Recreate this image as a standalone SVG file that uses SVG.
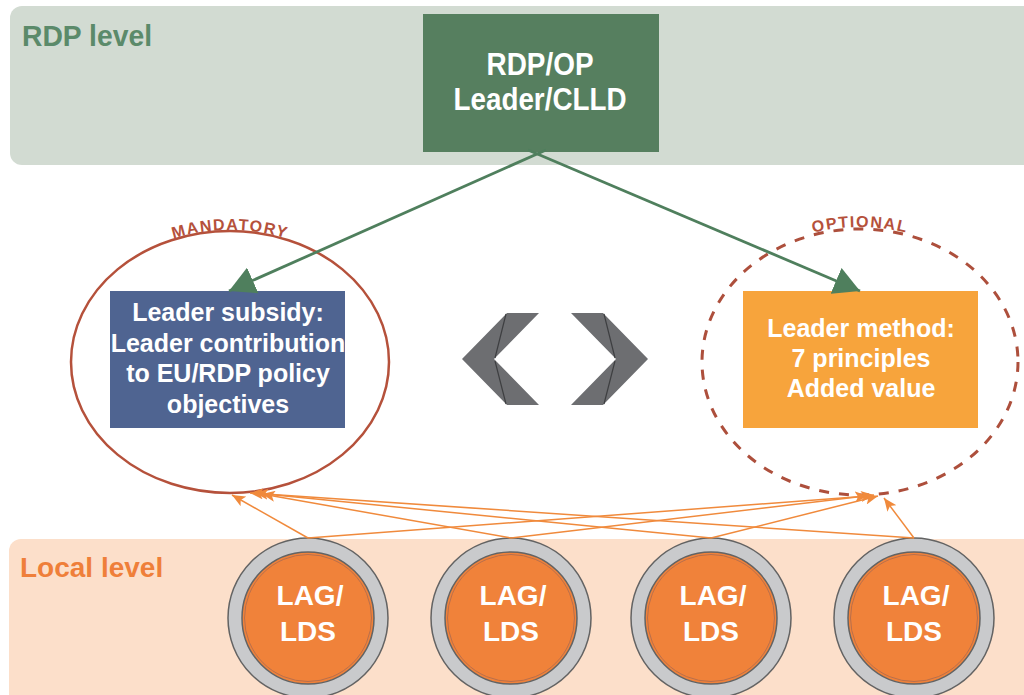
<svg xmlns="http://www.w3.org/2000/svg" width="1024" height="695" viewBox="0 0 1024 695">
<style>
  .band-title { font-family: "Liberation Sans", Arial, sans-serif; font-weight: bold; }
  .white { font-family: "Liberation Sans", Arial, sans-serif; font-weight: bold; fill: #ffffff; text-anchor: middle; }
  .curve { font-family: "Liberation Sans", Arial, sans-serif; font-weight: bold; font-size: 16px; letter-spacing: 1.4px; fill: #b5513b; }
  .green-link { stroke: #4f7f5d; stroke-width: 2.8; fill: none; }
  .orange-link { stroke: #f08a3c; stroke-width: 1.5; fill: none; }
  .chev { fill: #6d6e71; }
  .crease { stroke: #3e3f41; stroke-width: 1.2; fill: none; }
  .lag-outer { fill: #c9cacc; stroke: #636363; stroke-width: 1.5; }
  .lag-inner { fill: #f0823a; stroke: #636363; stroke-width: 1.5; }
  .lag-ring { fill: none; stroke: #b86f4c; stroke-width: 1; }
</style>
<defs>
  <marker id="greenArrow" markerUnits="userSpaceOnUse" markerWidth="26" markerHeight="28" viewBox="0 0 26 28" refX="26" refY="14" orient="auto">
    <path d="M0,0 L26,14 L0,28 z" fill="#4f7f5d"/>
  </marker>
  <marker id="orangeArrow" markerUnits="userSpaceOnUse" markerWidth="13" markerHeight="11" viewBox="0 0 13 11" refX="13" refY="5.5" orient="auto">
    <path d="M0,0 L13,5.5 L0,11 L3,5.5 z" fill="#f08a3c"/>
  </marker>
  <path id="mandPath" d="M 71,362 A 159 131 0 0 1 389,362"/>
  <path id="optPath" d="M 702,362 A 158 133 0 0 1 1018,362"/>
</defs>

<rect width="1024" height="695" fill="#ffffff"/>

<g id="rdp-level">
  <rect x="10" y="6" width="1030" height="159" rx="12" fill="#d2dbd2"/>
  <text class="band-title" x="22" y="46" font-size="30" fill="#5b8a6a" textLength="130" lengthAdjust="spacingAndGlyphs">RDP level</text>
</g>

<g id="local-level">
  <rect x="9" y="539" width="1030" height="170" rx="12" fill="#fcdfca"/>
  <text class="band-title" x="20" y="577" font-size="28" fill="#ef7f3a">Local level</text>
</g>

<g id="rdp-op">
  <rect x="423" y="14" width="236" height="138" fill="#567f5f"/>
  <text class="white" x="540" y="75" font-size="30.5" textLength="107" lengthAdjust="spacingAndGlyphs">RDP/OP</text>
  <text class="white" x="540" y="110" font-size="30.5" textLength="173" lengthAdjust="spacingAndGlyphs">Leader/CLLD</text>
</g>

<g id="mandatory">
  <ellipse cx="230" cy="362" rx="159" ry="131" fill="none" stroke="#b5513b" stroke-width="2.5"/>
  <text class="curve" dy="-1"><textPath href="#mandPath" startOffset="50%" text-anchor="middle">MANDATORY</textPath></text>
</g>

<g id="optional">
  <ellipse cx="860" cy="362" rx="158" ry="133" fill="none" stroke="#ad4f3c" stroke-width="3" stroke-dasharray="10 10"/>
  <text class="curve" dy="-2"><textPath href="#optPath" startOffset="50%" text-anchor="middle">OPTIONAL</textPath></text>
</g>

<g id="leader-subsidy">
  <rect x="110" y="291" width="235" height="137" fill="#4f6491"/>
  <text class="white" x="228" y="321" font-size="25">Leader subsidy:</text>
  <text class="white" x="228" y="351.5" font-size="25">Leader contribution</text>
  <text class="white" x="228" y="382" font-size="25">to EU/RDP policy</text>
  <text class="white" x="228" y="412.5" font-size="25">objectives</text>
</g>

<g id="leader-method">
  <rect x="743" y="291" width="235" height="137" fill="#f7a43c"/>
  <text class="white" x="861" y="337" font-size="25">Leader method:</text>
  <text class="white" x="861" y="367" font-size="25">7 principles</text>
  <text class="white" x="861" y="397" font-size="25">Added value</text>
</g>

<g id="chevrons">
  <polygon class="chev" points="507,313 539,313 494,359 539,405 507,405 462,359"/>
  <path class="crease" d="M506,314 L495,358 M495,361 L506,404"/>
  <polygon class="chev" points="603,313 571,313 616,359 571,405 603,405 648,359"/>
  <path class="crease" d="M604,314 L615,358 M615,361 L604,404"/>
</g>

<g id="lag1">
  <circle class="lag-outer" cx="308" cy="618" r="80"/>
  <circle class="lag-inner" cx="308" cy="618" r="66"/>
  <circle class="lag-ring" cx="308" cy="618" r="63.5"/>
  <text class="white" x="310" y="605" font-size="28">LAG/</text>
  <text class="white" x="308" y="641" font-size="28">LDS</text>
</g>
<g id="lag2">
  <circle class="lag-outer" cx="511" cy="618" r="80"/>
  <circle class="lag-inner" cx="511" cy="618" r="66"/>
  <circle class="lag-ring" cx="511" cy="618" r="63.5"/>
  <text class="white" x="513" y="605" font-size="28">LAG/</text>
  <text class="white" x="511" y="641" font-size="28">LDS</text>
</g>
<g id="lag3">
  <circle class="lag-outer" cx="711" cy="618" r="80"/>
  <circle class="lag-inner" cx="711" cy="618" r="66"/>
  <circle class="lag-ring" cx="711" cy="618" r="63.5"/>
  <text class="white" x="713" y="605" font-size="28">LAG/</text>
  <text class="white" x="711" y="641" font-size="28">LDS</text>
</g>
<g id="lag4">
  <circle class="lag-outer" cx="914" cy="618" r="80"/>
  <circle class="lag-inner" cx="914" cy="618" r="66"/>
  <circle class="lag-ring" cx="914" cy="618" r="63.5"/>
  <text class="white" x="916" y="605" font-size="28">LAG/</text>
  <text class="white" x="914" y="641" font-size="28">LDS</text>
</g>

<g id="connectors">
  <line class="green-link" x1="546" y1="150" x2="229" y2="291" marker-end="url(#greenArrow)"/>
  <line class="green-link" x1="528" y1="150" x2="860" y2="291" marker-end="url(#greenArrow)"/>

  <line class="orange-link" x1="308" y1="538" x2="232" y2="495" marker-end="url(#orangeArrow)"/>
  <line class="orange-link" x1="308" y1="538" x2="868" y2="496" marker-end="url(#orangeArrow)"/>
  <line class="orange-link" x1="511" y1="538" x2="262" y2="494" marker-end="url(#orangeArrow)"/>
  <line class="orange-link" x1="511" y1="538" x2="874" y2="495" marker-end="url(#orangeArrow)"/>
  <line class="orange-link" x1="711" y1="538" x2="255" y2="493" marker-end="url(#orangeArrow)"/>
  <line class="orange-link" x1="711" y1="538" x2="878" y2="496" marker-end="url(#orangeArrow)"/>
  <line class="orange-link" x1="914" y1="538" x2="250" y2="493" marker-end="url(#orangeArrow)"/>
  <line class="orange-link" x1="914" y1="538" x2="884" y2="498" marker-end="url(#orangeArrow)"/>
</g>
</svg>
